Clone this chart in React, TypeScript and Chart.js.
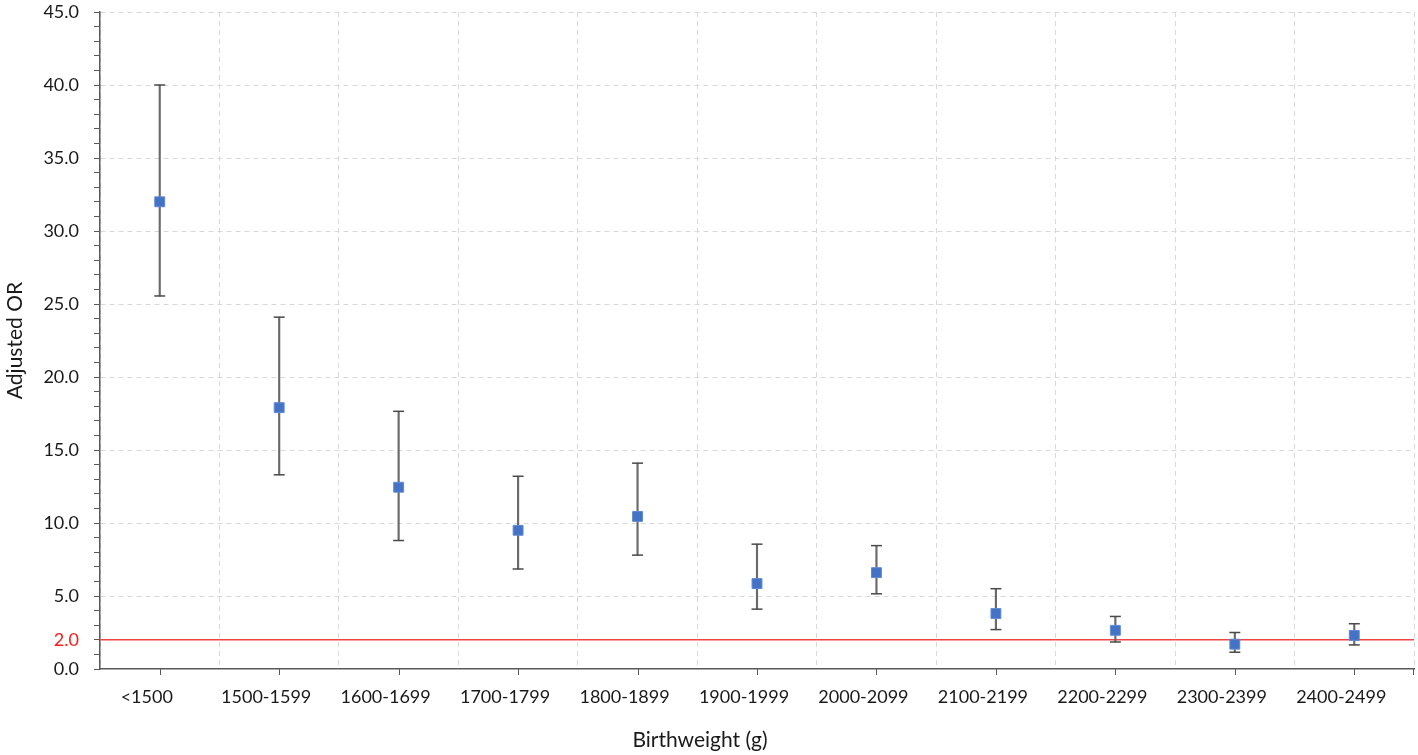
import React, { useEffect, useRef } from "react";
import { Chart, registerables } from "chart.js";

Chart.register(...registerables);

const CATEGORIES = [
  "<1500",
  "1500-1599",
  "1600-1699",
  "1700-1799",
  "1800-1899",
  "1900-1999",
  "2000-2099",
  "2100-2199",
  "2200-2299",
  "2300-2399",
  "2400-2499",
];
const OR_VALUES = [32.0, 17.9, 12.45, 9.5, 10.45, 5.85, 6.6, 3.8, 2.65, 1.7, 2.3];
const CI_LOWER = [25.55, 13.3, 8.8, 6.85, 7.8, 4.1, 5.15, 2.7, 1.85, 1.15, 1.65];
const CI_UPPER = [40.0, 24.1, 17.65, 13.2, 14.1, 8.55, 8.45, 5.5, 3.6, 2.5, 3.1];
const REFERENCE_OR = 2.0;
const Y_MIN = 0;
const Y_MAX = 45;
const Y_LABELED = [0, 2, 5, 10, 15, 20, 25, 30, 35, 40, 45];

const AXIS_COLOR = "#595959";
const GRID_COLOR = "#d9d9d9";
const RED = "#f04545";
const FONT = "Lato";

const extrasPlugin = {
  id: "extras",
  beforeDatasetsDraw(chart: any) {
    const { ctx, chartArea, scales } = chart;
    const y = scales.y.getPixelForValue(REFERENCE_OR);
    ctx.save();
    ctx.strokeStyle = RED;
    ctx.lineWidth = 1.5;
    ctx.beginPath();
    ctx.moveTo(chartArea.left, y);
    ctx.lineTo(chartArea.right, y);
    ctx.stroke();
    ctx.restore();
  },
  afterDraw(chart: any) {
    const { ctx, chartArea, scales } = chart;
    const xs = scales.x;
    ctx.save();
    ctx.strokeStyle = AXIS_COLOR;
    ctx.lineWidth = 1;
    for (let i = 0; i < CATEGORIES.length; i++) {
      const x = Math.round(xs.getPixelForValue(i)) + 0.5;
      ctx.beginPath();
      ctx.moveTo(x, chartArea.bottom);
      ctx.lineTo(x, chartArea.bottom + 6);
      ctx.stroke();
    }
    const xr = Math.round(chartArea.right) - 0.5;
    ctx.beginPath();
    ctx.moveTo(xr, chartArea.bottom);
    ctx.lineTo(xr, chartArea.bottom + 6);
    ctx.stroke();
    ctx.fillStyle = "#1a1a1a";
    ctx.font = `21px ${FONT}`;
    ctx.textAlign = "center";
    ctx.textBaseline = "middle";
    ctx.fillText("Birthweight (g)", chart.width / 2 - 9, 740);
    ctx.restore();
  },
};

export default function App() {
  const canvasRef = useRef<HTMLCanvasElement | null>(null);

  useEffect(() => {
    if (!canvasRef.current) return;
    Chart.defaults.font.family = FONT;
    const chart = new Chart(canvasRef.current, {
      type: "bar",
      data: {
        labels: CATEGORIES,
        datasets: [
          {
            type: "line",
            label: "Adjusted OR",
            data: OR_VALUES,
            showLine: false,
            pointStyle: "rect",
            pointRadius: 7,
            pointBackgroundColor: "#4472C4",
            pointBorderColor: "#5f8ad6",
            pointBorderWidth: 1,
            order: 0,
          } as any,
          {
            type: "line",
            label: "Upper",
            data: CI_UPPER,
            showLine: false,
            pointStyle: "line",
            pointRadius: 5.5,
            pointBorderColor: "#4a4a4a",
            pointBorderWidth: 1.5,
            order: 1,
          } as any,
          {
            type: "line",
            label: "Lower",
            data: CI_LOWER,
            showLine: false,
            pointStyle: "line",
            pointRadius: 5.5,
            pointBorderColor: "#4a4a4a",
            pointBorderWidth: 1.5,
            order: 1,
          } as any,
          {
            type: "bar",
            label: "CI",
            data: CI_LOWER.map((l, i) => [l, CI_UPPER[i]]),
            backgroundColor: "#6a6a6a",
            borderWidth: 0,
            barThickness: 1.5,
            order: 2,
          } as any,
        ],
      },
      options: {
        animation: false,
        responsive: true,
        maintainAspectRatio: false,
        layout: { autoPadding: false, padding: { top: 0, left: 0, bottom: 0, right: 4 } },
        plugins: {
          legend: { display: false },
          tooltip: { enabled: false },
        },
        scales: {
          x: {
            type: "category",
            offset: true,
            grid: {
              offset: true,
              color: GRID_COLOR,
              lineWidth: 1,
              drawTicks: false,
            },
            border: { display: true, color: AXIS_COLOR, width: 1.5, dash: [5, 4] },
            ticks: {
              color: "#1a1a1a",
              font: { size: 18, family: FONT },
              padding: 17,
              labelOffset: -13,
              maxRotation: 0,
              autoSkip: false,
            },
            afterFit(scale: any) {
              scale.height = 86;
              scale.paddingLeft = 0;
              scale.paddingRight = 0;
            },
          },
          y: {
            type: "linear",
            min: Y_MIN,
            max: Y_MAX,
            grid: {
              color: (c: any) => {
                const v = c.tick ? c.tick.value : NaN;
                return v % 5 === 0 && v !== 0 ? GRID_COLOR : "rgba(0,0,0,0)";
              },
              lineWidth: 1,
              drawTicks: true,
              tickLength: 6,
              tickColor: AXIS_COLOR,
              tickWidth: 1,
            },
            border: { display: true, color: AXIS_COLOR, width: 1.5, dash: [5, 4] },
            ticks: {
              stepSize: 1,
              autoSkip: false,
              padding: 15,
              font: { size: 18, family: FONT },
              color: (c: any) => (c.tick && c.tick.value === REFERENCE_OR ? "#ff1a1a" : "#1a1a1a"),
              callback: (v: any) => (Y_LABELED.includes(Number(v)) ? Number(v).toFixed(1) : ""),
            },
            title: {
              display: true,
              text: "Adjusted OR",
              color: "#1a1a1a",
              font: { size: 21, family: FONT },
              padding: { top: 3, bottom: 0 },
            },
            afterFit(scale: any) {
              scale.width = 100;
              scale.paddingTop = 12;
              scale.paddingBottom = 0;
            },
          },
        },
      } as any,
      plugins: [extrasPlugin],
    });
    return () => chart.destroy();
  }, []);

  return (
    <div style={{ position: "fixed", left: 0, top: 0, width: "100vw", height: "100vh", background: "#fff" }}>
      <canvas ref={canvasRef} />
    </div>
  );
}
